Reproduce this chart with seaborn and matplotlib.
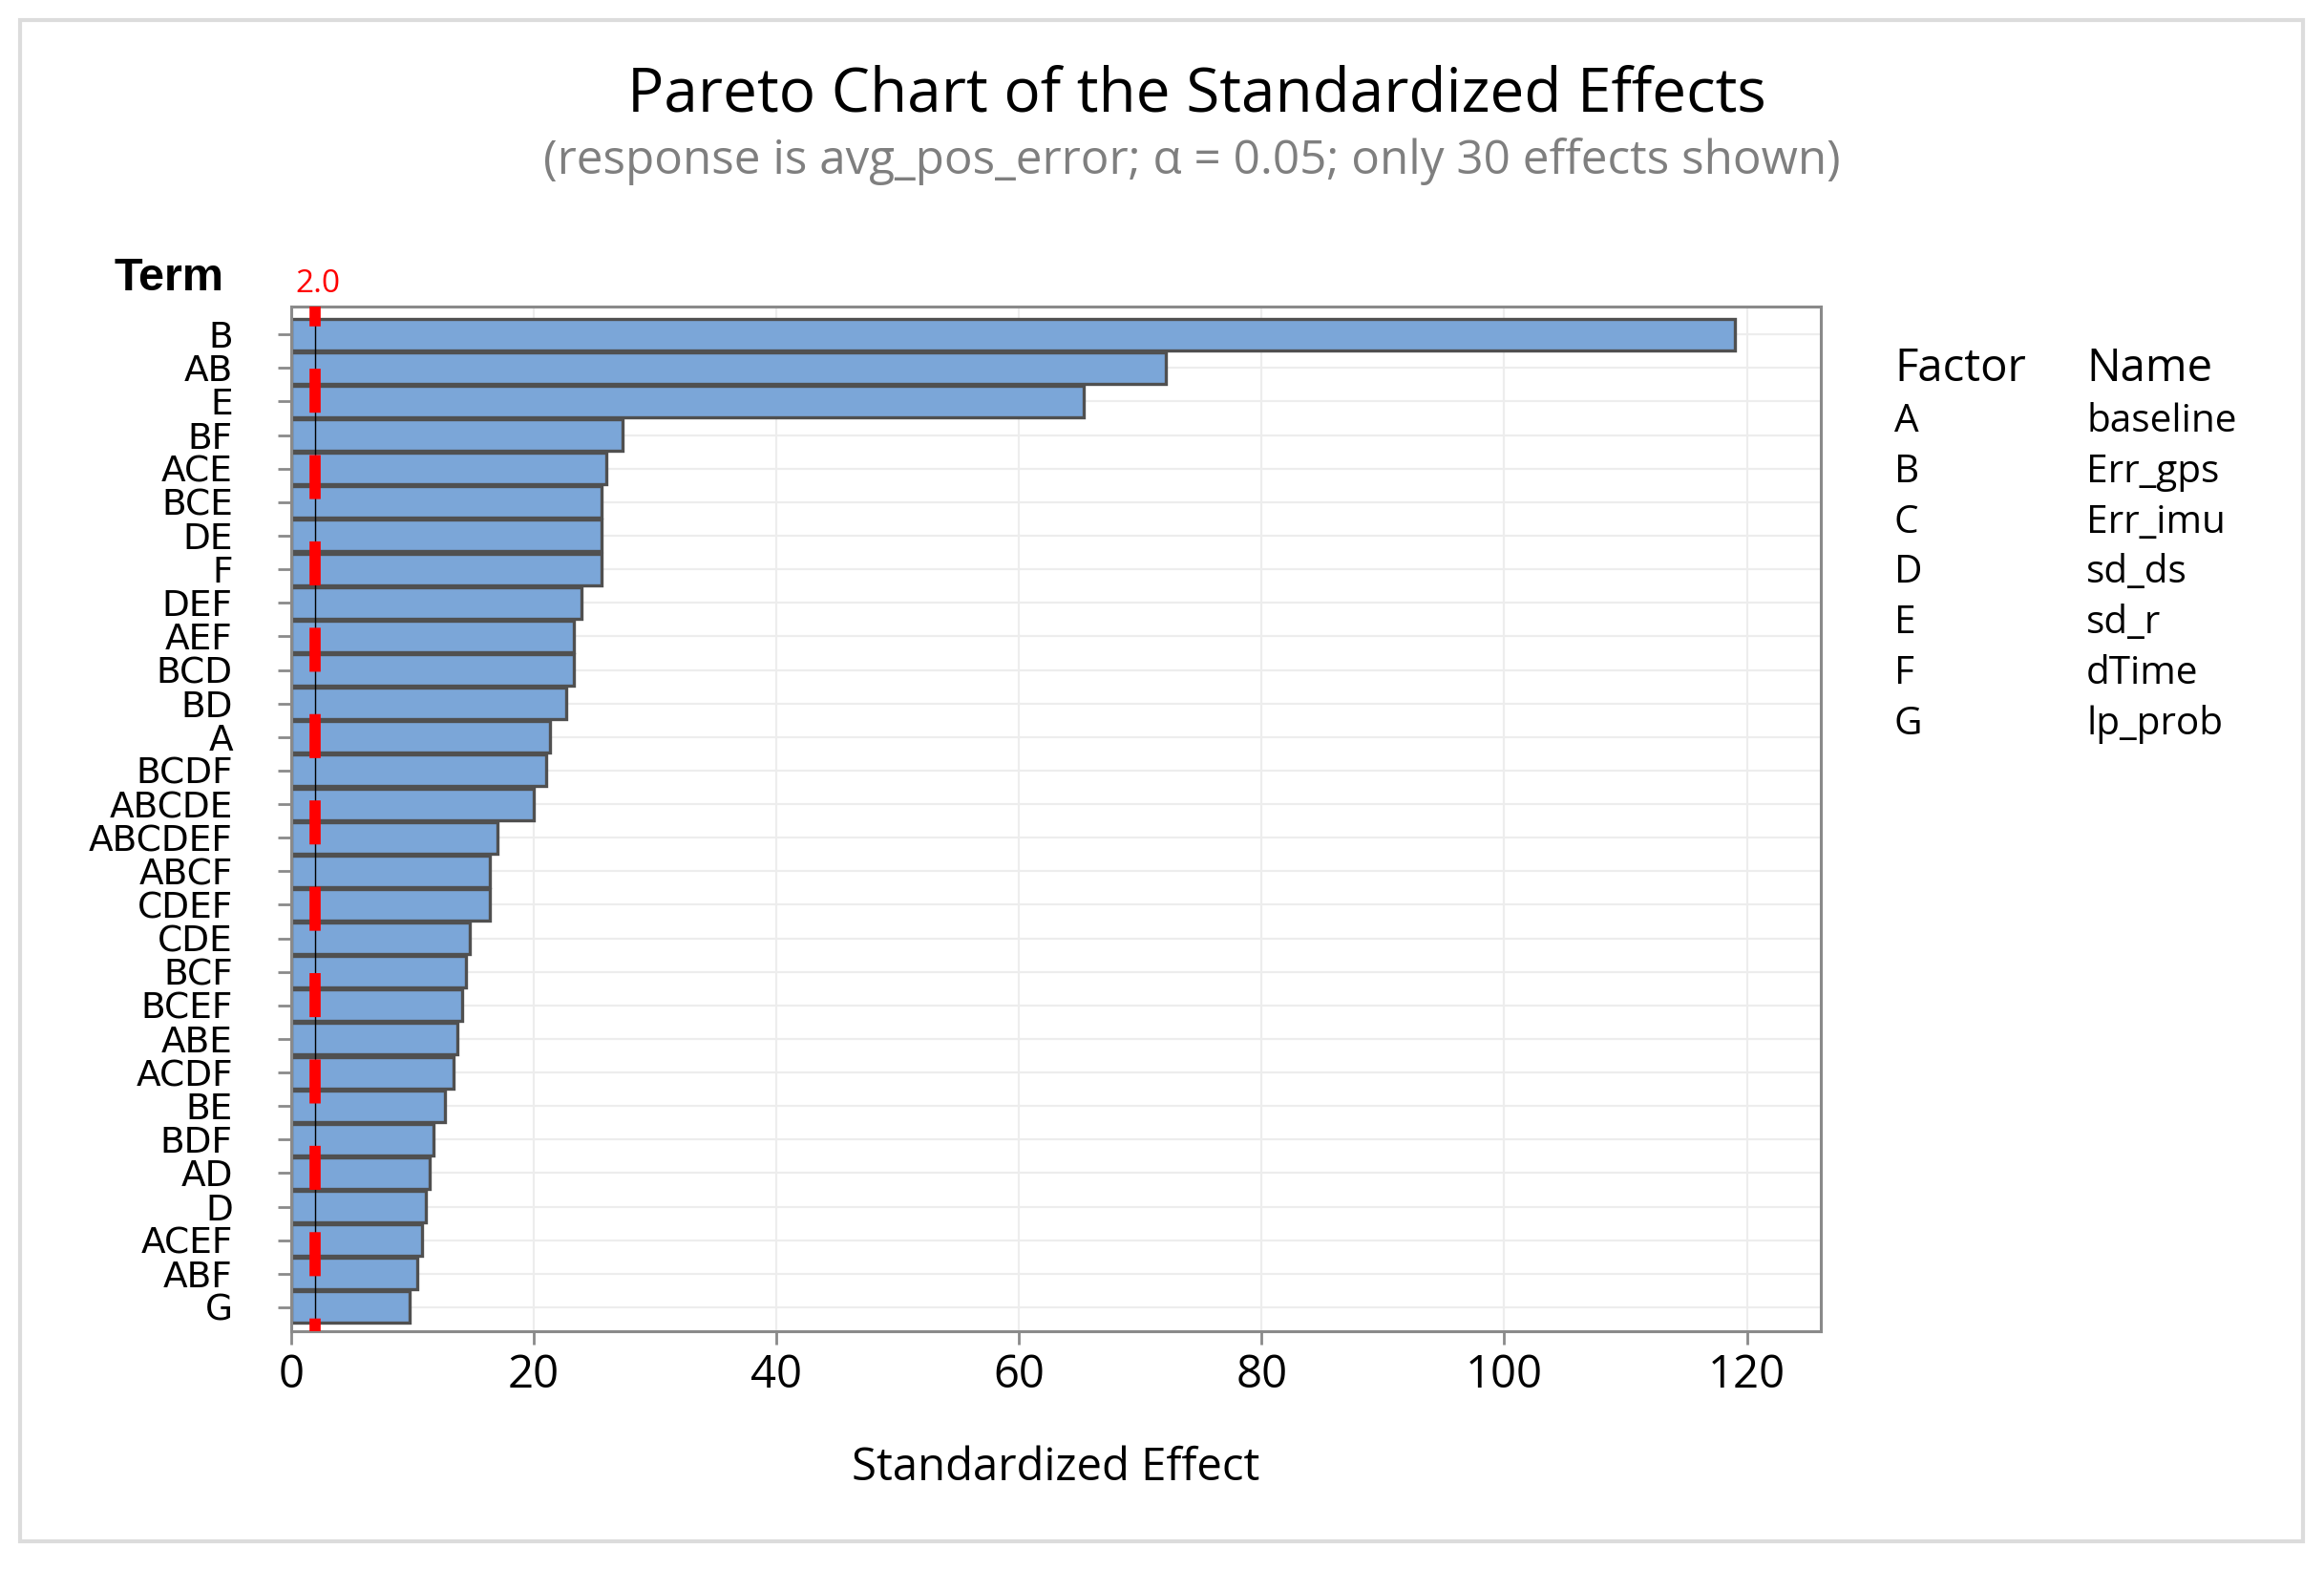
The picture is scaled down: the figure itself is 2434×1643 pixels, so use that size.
import matplotlib
matplotlib.use('Agg')
import matplotlib.pyplot as plt
import seaborn as sns
import pandas as pd
from matplotlib.patches import Rectangle

# Data
terms = ['B', 'AB', 'E', 'BF', 'ACE', 'BCE', 'DE', 'F', 'DEF', 'AEF', 'BCD', 'BD', 'A',
         'BCDF', 'ABCDE', 'ABCDEF', 'ABCF', 'CDEF', 'CDE', 'BCF', 'BCEF', 'ABE', 'ACDF',
         'BE', 'BDF', 'AD', 'D', 'ACEF', 'ABF', 'G']
effects = [119.0, 72.1, 65.3, 27.3, 26.0, 25.6, 25.6, 25.6, 23.9, 23.3, 23.3, 22.7, 21.3,
           21.0, 20.0, 17.0, 16.4, 16.4, 14.7, 14.4, 14.1, 13.7, 13.4,
           12.7, 11.7, 11.4, 11.1, 10.8, 10.4, 9.8]
factors = ['A', 'B', 'C', 'D', 'E', 'F', 'G']
factor_names = ['baseline', 'Err_gps', 'Err_imu', 'sd_ds', 'sd_r', 'dTime', 'lp_prob']
x_ticks = [0, 20, 40, 60, 80, 100, 120]
critical_value = 2.0

title = 'Pareto Chart of the Standardized Effects'
subtitle = '(response is avg_pos_error; \u03b1 = 0.05; only 30 effects shown)'

sns.set_style('whitegrid', {'grid.color': '#ededed', 'axes.edgecolor': '#8a8a8a',
                            'text.color': 'black', 'axes.labelcolor': 'black',
                            'xtick.color': 'black', 'ytick.color': 'black'})
plt.rcParams['font.family'] = ['Open Sans', 'DejaVu Sans']

df = pd.DataFrame({'term': terms, 'effect': effects})

fig = plt.figure(figsize=(12.17, 8.215), dpi=200)
ax = fig.add_axes([0.1253, 0.1516, 0.6582, 0.653])

sns.barplot(data=df, x='effect', y='term', orient='h', color='#7ba6d8', saturation=1,
            edgecolor='#505050', linewidth=1.2, width=0.94, ax=ax, zorder=2)

ax.set_xlim(0, 126.1)
ax.set_ylim(len(terms) - 1 + 0.71, -0.83)
ax.set_xticks(x_ticks)
ax.set_yticks(range(len(terms)))
ax.set_yticklabels(terms)
ax.grid(True, axis='both', color='#ededed', linewidth=0.8, zorder=0)
ax.set_axisbelow(True)
for s in ax.spines.values():
    s.set_color('#8a8a8a')
    s.set_linewidth(1.1)

ax.tick_params(axis='x', direction='out', length=5, width=1, color='#8a8a8a',
               labelcolor='black', pad=3, labelsize=17, bottom=True)
ax.tick_params(axis='y', direction='out', length=5, width=1, color='#8a8a8a',
               labelcolor='black', pad=17, labelsize=13.5, left=True)
for lab in ax.get_yticklabels():
    lab.set_family('DejaVu Sans')
ax.set_ylabel('')
ax.set_xlabel('Standardized Effect', fontsize=17, labelpad=18, color='black')

# reference line at the critical value
ax.axvline(critical_value, color='black', linewidth=0.5, zorder=3)
ax.plot([critical_value, critical_value], [-0.83, len(terms) - 1 + 0.71], color='red',
        linewidth=4.2, linestyle=(2.17, (3.95, 3.8)), solid_capstyle='butt',
        dash_capstyle='butt', zorder=4, clip_on=False)
ax.annotate('2.0', xy=(critical_value, 1.0), xycoords=('data', 'axes fraction'),
            xytext=(1, 2.5), textcoords='offset points', ha='center', va='bottom',
            color='red', fontsize=12)

fig.text(0.0493, 0.815, 'Term', ha='left', va='baseline', fontsize=17.5,
         fontweight='bold', family='Liberation Sans', color='black')

fig.text(0.515, 0.9288, title, ha='center', va='baseline', fontsize=23, color='black')
fig.text(0.513, 0.889, subtitle, ha='center', va='baseline', fontsize=17.8, color='#7f7f7f')

# factor table
fig.text(0.8151, 1 - 399 / 1643, 'Factor', ha='left', va='baseline', fontsize=17)
fig.text(0.8977, 1 - 399 / 1643, 'Name', ha='left', va='baseline', fontsize=17)
for i, (f, n) in enumerate(zip(factors, factor_names)):
    yb = 1 - (452 + i * 52.8) / 1643
    fig.text(0.8151, yb, f, ha='left', va='baseline', fontsize=14.6)
    fig.text(0.8977, yb, n, ha='left', va='baseline', fontsize=14.6)

# outer frame
fig.patches.append(Rectangle((0.0086, 0.0177), 0.9823, 0.9696, transform=fig.transFigure,
                             fill=False, edgecolor='#dcdcdc', linewidth=1.5))

fig.savefig('out.png', dpi=200)
plt.close(fig)
